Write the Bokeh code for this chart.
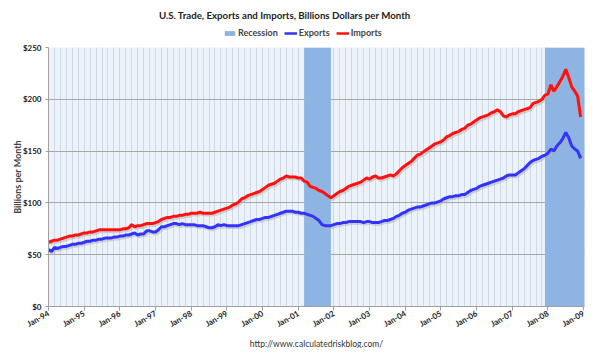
import numpy as np
from bokeh.plotting import figure
from bokeh.layouts import column
from bokeh.models import (ColumnDataSource, Title, Label, Legend, LegendItem, FixedTicker,
                          Range1d, NumeralTickFormatter)
from bokeh.embed import file_html
from bokeh.resources import INLINE

# ---------------- data (monthly, Jan-1994 .. Dec-2008, $ billions) ----------------
exports = [
    55, 53, 57, 56, 57, 58, 58, 59, 60, 60, 61, 61,            # 1994
    62, 63, 63, 64, 64, 65, 65, 66, 66, 66, 67, 67,            # 1995
    68, 68, 69, 69, 70, 71, 69, 70, 70, 73, 73, 72,            # 1996
    72, 74, 77, 77, 78, 79, 80, 80, 79, 80, 79, 79,            # 1997
    79, 79, 78, 78, 78, 77, 76, 76, 77, 79, 78, 79,            # 1998
    78, 78, 78, 78, 78, 79, 80, 81, 82, 83, 84, 84,            # 1999
    85, 86, 86, 87, 88, 89, 90, 91, 92, 92, 92, 91,            # 2000
    91, 90, 90, 89, 88, 87, 85, 83, 79, 78, 78, 78,            # 2001
    79, 80, 80, 81, 81, 82, 82, 82, 82, 82, 81, 82,            # 2002
    82, 81, 81, 81, 82, 83, 83, 84, 85, 87, 88, 90,            # 2003
    91, 93, 94, 95, 96, 96, 97, 98, 99, 100, 100, 101,         # 2004
    102, 104, 105, 106, 106, 107, 107, 108, 108, 110, 112, 113,  # 2005
    114, 116, 117, 118, 119, 120, 121, 122, 123, 124, 126, 127,  # 2006
    127, 127, 129, 131, 133, 136, 139, 141, 142, 143, 145, 146,  # 2007
    148, 152, 150, 155, 158, 162, 168, 163, 155, 152, 150, 143,  # 2008
]

imports = [
    62, 63, 64, 64, 65, 66, 67, 68, 68, 69, 69, 70,            # 1994
    71, 71, 72, 72, 73, 74, 74, 74, 74, 74, 74, 74,            # 1995
    74, 75, 75, 76, 79, 77, 78, 78, 79, 80, 80, 80,            # 1996
    81, 82, 84, 85, 86, 86, 87, 87, 88, 88, 89, 89,            # 1997
    90, 90, 90, 91, 90, 90, 90, 90, 91, 92, 93, 94,            # 1998
    95, 96, 98, 99, 101, 104, 105, 107, 108, 109, 110, 111,    # 1999
    113, 115, 117, 118, 119, 121, 123, 124, 126, 125, 125, 125,  # 2000
    124, 124, 121, 120, 116, 115, 114, 112, 111, 109, 107, 105,  # 2001
    107, 109, 111, 112, 114, 116, 117, 118, 119, 120, 122, 124,  # 2002
    123, 125, 126, 124, 124, 125, 126, 127, 126, 128, 131, 134,  # 2003
    136, 138, 140, 143, 146, 147, 149, 151, 153, 155, 157, 158,  # 2004
    159, 161, 164, 165, 167, 168, 169, 171, 172, 175, 176, 178,  # 2005
    180, 182, 183, 184, 185, 187, 188, 190, 188, 184, 183, 185,  # 2006
    186, 186, 188, 189, 190, 191, 192, 196, 197, 198, 200, 204,  # 2007
    205, 214, 208, 212, 217, 222, 229, 221, 212, 208, 203, 183,  # 2008
]

tick_labels = ["Jan-94", "Jan-95", "Jan-96", "Jan-97", "Jan-98", "Jan-99", "Jan-00",
               "Jan-01", "Jan-02", "Jan-03", "Jan-04", "Jan-05", "Jan-06", "Jan-07",
               "Jan-08", "Jan-09"]

# recessions as (year, month) first / last month
rec_start = [(2001, 3), (2007, 12)]
rec_end = [(2001, 11), (2009, 1)]

y_ticks = [0, 50, 100, 150, 200, 250]

TITLE = "U.S. Trade, Exports and Imports, Billions Dollars per Month"
SOURCE = "http://www.calculatedriskblog.com/"

# ---------------- derived ----------------
def midx(ym):
    return (ym[0] - 1994) * 12 + (ym[1] - 1)

months = np.arange(len(exports))
src = ColumnDataSource(dict(m=months, ex=exports, im=imports,
                            ex_sh=np.array(exports) - 1.8, im_sh=np.array(imports) - 1.8,
                            m_sh=months + 0.5))
rec_src = ColumnDataSource(dict(left=[midx(s) for s in rec_start],
                                right=[midx(e) + 1 for e in rec_end],
                                bottom=[0, 0], top=[250, 250]))

FONT = "Lato"
REC_COLOR = "#8DB4E2"
EX_COLOR = "#3333FF"
IM_COLOR = "#FF1111"
W = 592

# ---------------- header (title + legend) ----------------
HEAD_H = 41
header = figure(width=W, height=HEAD_H, output_backend="svg", toolbar_location=None,
                x_range=Range1d(0, W), y_range=Range1d(0, HEAD_H),
                min_border=0, min_border_left=0, min_border_right=0,
                min_border_top=0, min_border_bottom=0)
header.axis.visible = False
header.grid.visible = False
header.outline_line_color = None
header.background_fill_color = "white"

# legend-only renderers (no visible data)
nan = float("nan")
swatch = ColumnDataSource(dict(x=[nan], y=[nan], l=[nan], r=[nan], b=[nan], t=[nan]))
h_rec = header.quad(left="l", right="r", bottom="b", top="t", source=swatch,
                    fill_color=REC_COLOR, line_color=None)
h_ex = header.line("x", "y", source=swatch, line_color=EX_COLOR, line_width=2.5)
h_im = header.line("x", "y", source=swatch, line_color=IM_COLOR, line_width=2.5)

legend = Legend(items=[LegendItem(label="Recession", renderers=[h_rec]),
                       LegendItem(label="Exports", renderers=[h_ex]),
                       LegendItem(label="Imports", renderers=[h_im])],
                orientation="horizontal", location=(175, 3),
                label_text_font=FONT, label_text_font_style="bold",
                label_text_font_size="9px", glyph_width=13, glyph_height=6,
                label_standoff=2, spacing=6, padding=2, margin=0,
                border_line_color=None, background_fill_alpha=0)
header.add_layout(legend)

header.add_layout(Label(x=261, y=HEAD_H - 14, text=TITLE, text_align="center",
                        text_baseline="middle", text_font=FONT, text_font_style="bold",
                        text_font_size="9.7px", text_color="#222222"))

# ---------------- main chart ----------------
p = figure(width=W, height=307, output_backend="svg", toolbar_location=None,
           x_range=Range1d(0, 180.3), y_range=Range1d(0, 250),
           background_fill_color="#EBF2FA", border_fill_color="white",
           min_border_left=48, min_border_right=8, min_border_top=6, min_border_bottom=42)
p.outline_line_color = None

p.xgrid.ticker = FixedTicker(ticks=list(range(0, 181, 2)))
p.xgrid.grid_line_color = "#CFD8E3"
p.xgrid.grid_line_width = 1
p.ygrid.ticker = FixedTicker(ticks=y_ticks)
p.ygrid.grid_line_color = "#A6A6A6"

p.quad(left="left", right="right", bottom="bottom", top="top", source=rec_src,
       fill_color=REC_COLOR, line_color=None)

p.line("m_sh", "im_sh", source=src, line_color="#B0B0B0", line_width=3, line_alpha=0.5)
p.line("m_sh", "ex_sh", source=src, line_color="#B0B0B0", line_width=3, line_alpha=0.5)
p.line("m", "ex", source=src, line_color=EX_COLOR, line_width=3)
p.line("m", "im", source=src, line_color=IM_COLOR, line_width=3)

p.xaxis.ticker = FixedTicker(ticks=[12 * i for i in range(len(tick_labels))])
p.xaxis.major_label_overrides = {12 * i: t for i, t in enumerate(tick_labels)}
p.xaxis.major_label_orientation = 0.52
p.xaxis.major_label_standoff = 2
p.xaxis.major_label_text_font = FONT
p.xaxis.major_label_text_font_style = "bold"
p.xaxis.major_label_text_font_size = "8px"
p.xaxis.major_label_text_color = "#222222"
p.xaxis.axis_line_color = "#A0A0A0"
p.xaxis.major_tick_line_color = "#A0A0A0"
p.xaxis.major_tick_in = 0
p.xaxis.major_tick_out = 4
p.xaxis.minor_tick_line_color = None

p.yaxis.ticker = FixedTicker(ticks=y_ticks)
p.yaxis.formatter = NumeralTickFormatter(format="$0")
p.yaxis.major_label_text_font = FONT
p.yaxis.major_label_text_font_style = "bold"
p.yaxis.major_label_text_font_size = "8px"
p.yaxis.major_label_text_color = "#222222"
p.yaxis.major_label_standoff = 4
p.yaxis.axis_line_color = "#A0A0A0"
p.yaxis.major_tick_line_color = "#A0A0A0"
p.yaxis.major_tick_in = 0
p.yaxis.major_tick_out = 3
p.yaxis.minor_tick_line_color = None
p.yaxis.axis_label = "Billions per Month"
p.yaxis.axis_label_text_font = FONT
p.yaxis.axis_label_text_font_style = "bold"
p.yaxis.axis_label_text_font_size = "9px"
p.yaxis.axis_label_standoff = -3

p.add_layout(Title(text=SOURCE, align="center", text_font=FONT,
                   text_font_style="normal", text_font_size="8.5px",
                   text_color="#333333", standoff=0), "below")

layout = column(header, p, spacing=0)
open("out.html", "w").write(file_html(layout, INLINE))
